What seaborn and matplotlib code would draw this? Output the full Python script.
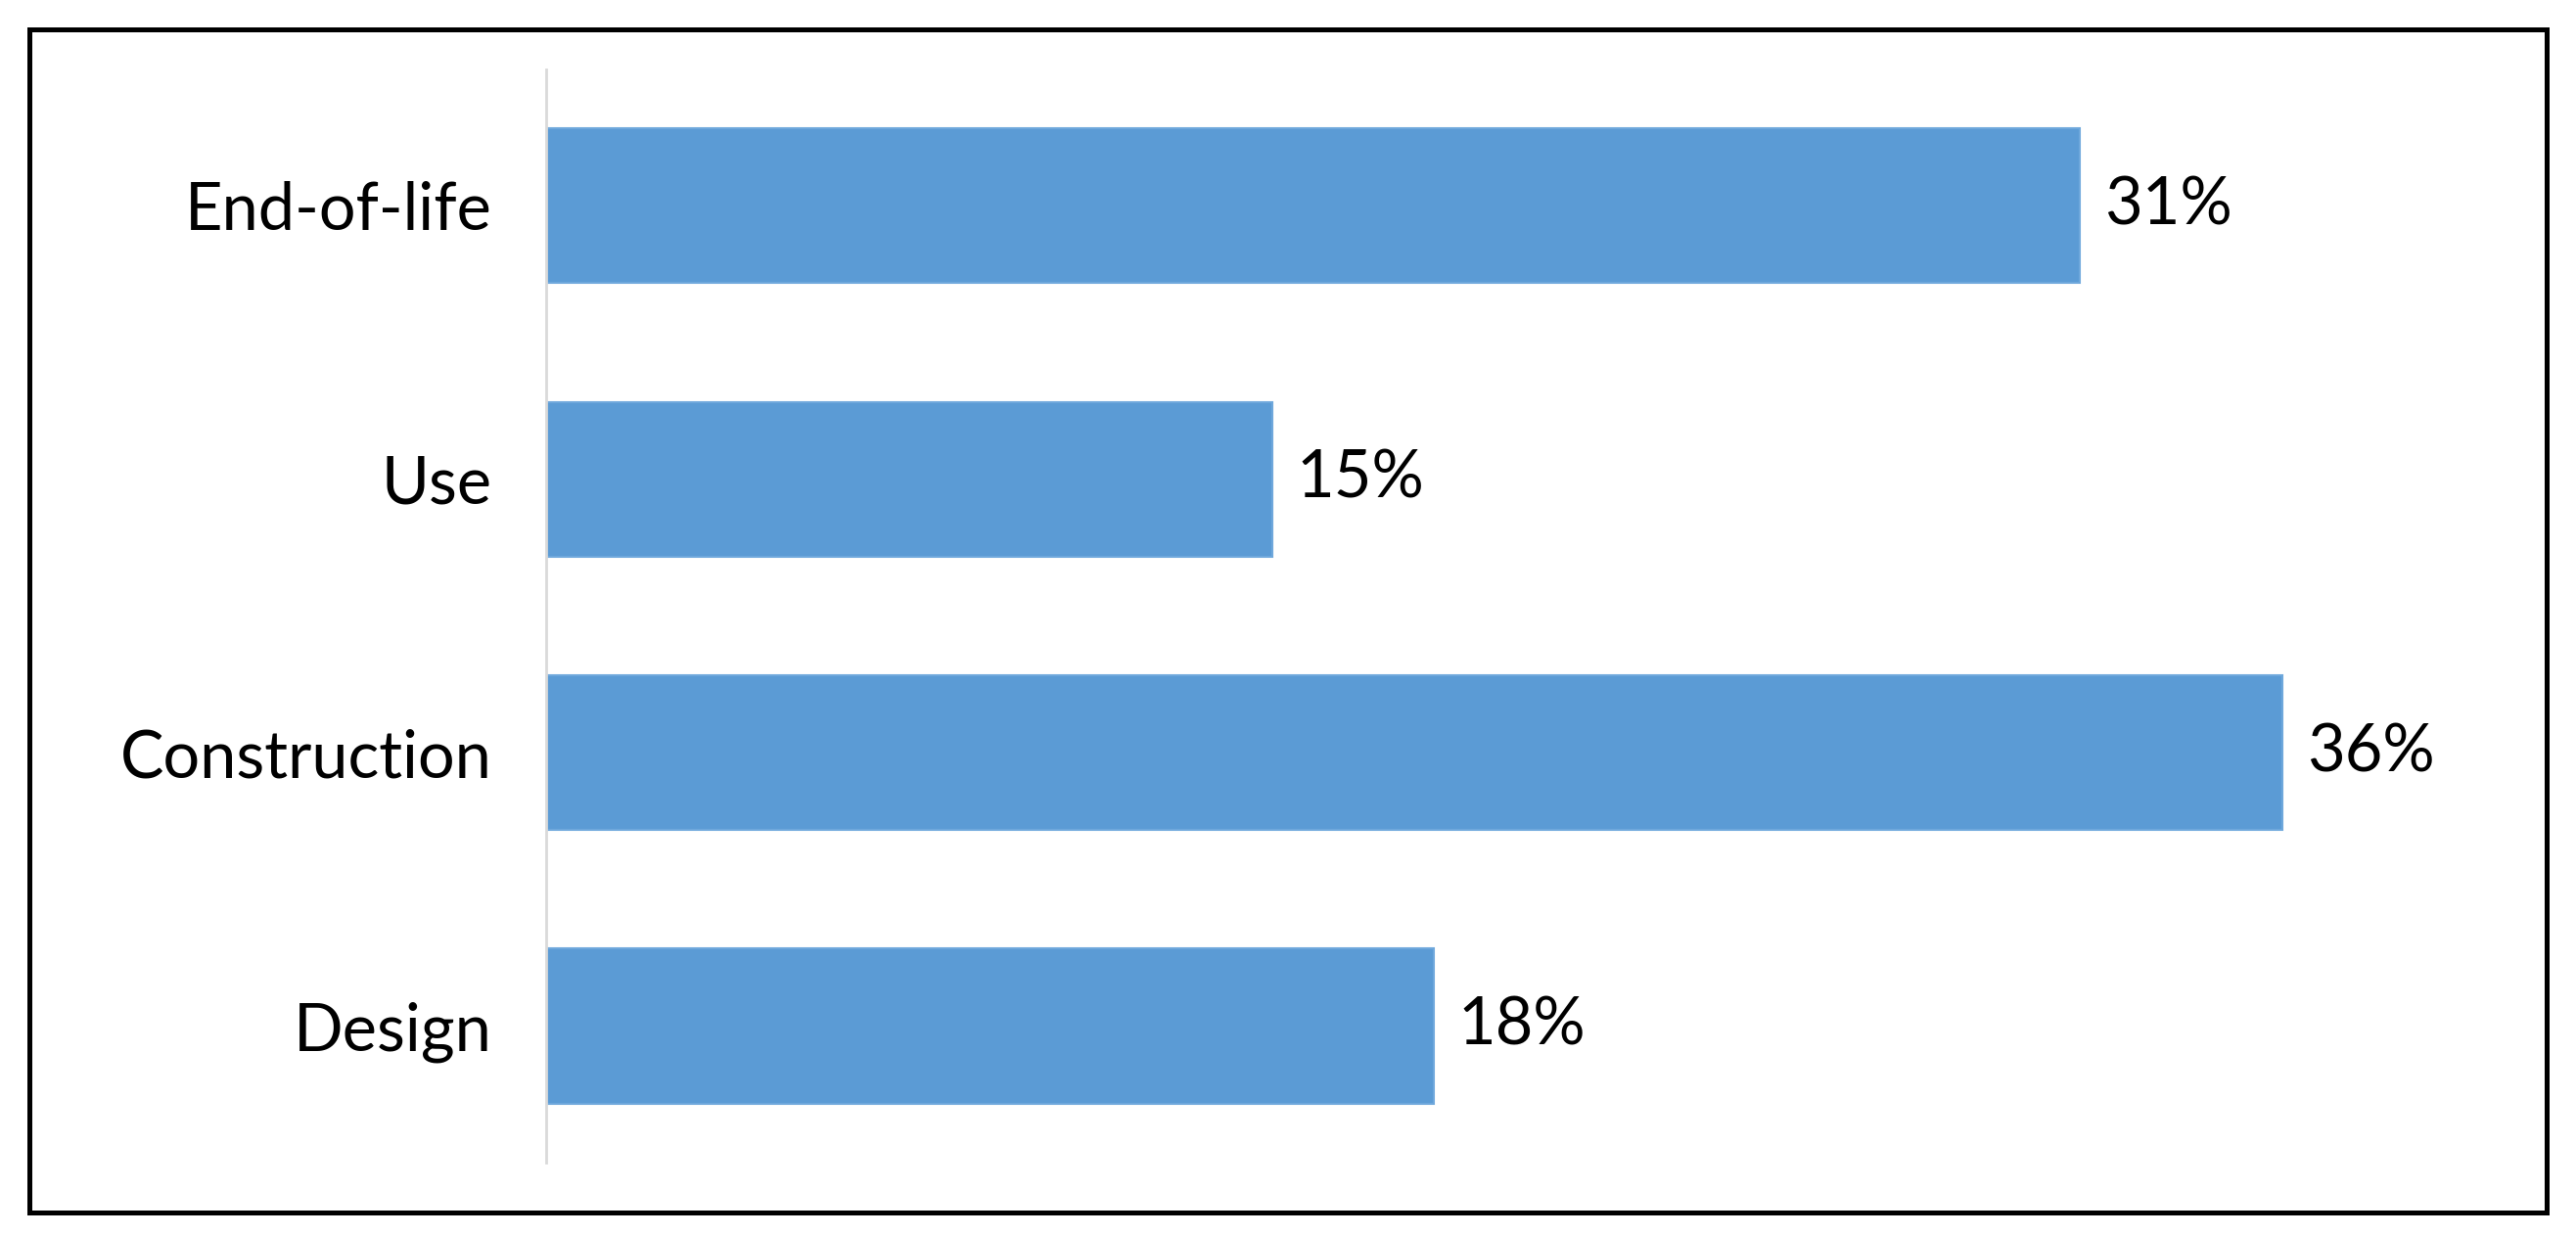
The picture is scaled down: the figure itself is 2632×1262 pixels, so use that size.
import matplotlib.pyplot as plt
import pandas as pd
import seaborn as sns
from matplotlib.patches import Rectangle

STAGES = ["End-of-life", "Use", "Construction", "Design"]
SHARES = [31.8, 15.05, 36.0, 18.4]
LABELS = ["31%", "15%", "36%", "18%"]

BAR_COLOR = "#5B9BD5"


def main() -> None:
    df = pd.DataFrame({"stage": STAGES, "share": SHARES})

    sns.set_theme(style="white")
    plt.rcParams["font.family"] = ["Lato", "DejaVu Sans"]

    fig = plt.figure(figsize=(26.32, 12.62), dpi=100)
    ax = fig.add_axes([0.212, 0.0585, 0.749, 0.8855])

    sns.barplot(data=df, x="share", y="stage", order=STAGES, color=BAR_COLOR,
                saturation=1, width=0.566, edgecolor="#6fa8dc", linewidth=1.5, ax=ax)

    for i, (value, label) in enumerate(zip(SHARES, LABELS)):
        ax.text(value + 0.5, i, label, va="center", ha="left", fontsize=48, color="black")

    ax.set_xlim(0, 40)
    ax.set_ylim(3.5, -0.5)
    ax.set_xlabel("")
    ax.set_ylabel("")
    ax.set_xticks([])
    ax.tick_params(axis="y", labelsize=48, colors="black", pad=40, length=0)
    for side in ["top", "right", "bottom"]:
        ax.spines[side].set_visible(False)
    ax.spines["left"].set_color("#d9d9d9")
    ax.spines["left"].set_linewidth(2)

    fig.patches.append(Rectangle((0.0115, 0.0186), 0.977, 0.9574, transform=fig.transFigure,
                                 fill=False, edgecolor="black", linewidth=3.6))

    fig.savefig("out.png", dpi=100)
    plt.close(fig)


if __name__ == "__main__":
    main()
